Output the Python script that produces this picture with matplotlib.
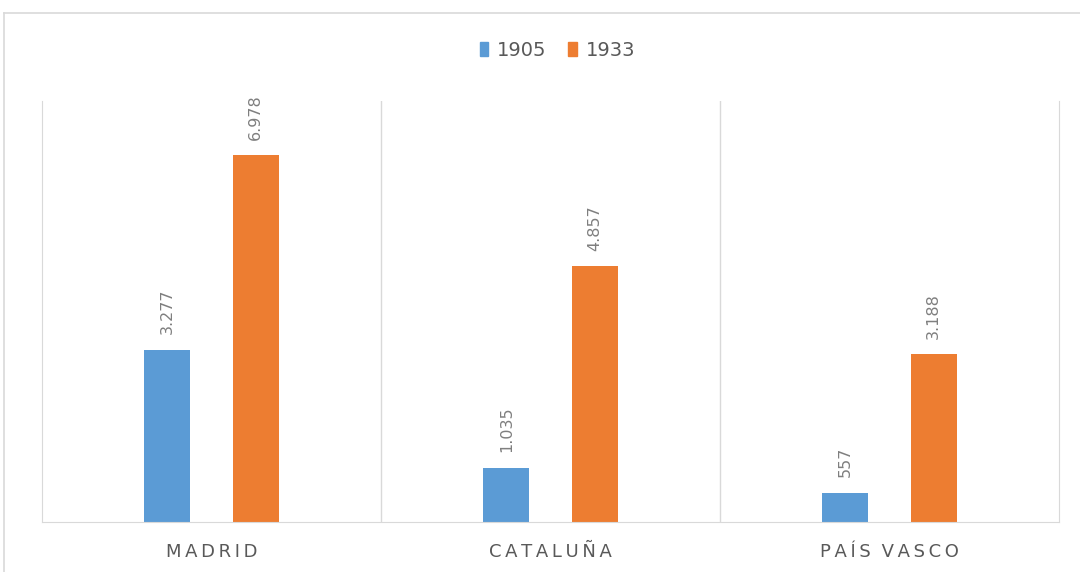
import matplotlib as mpl
mpl.use('Agg')
import matplotlib.pyplot as plt
from matplotlib.lines import Line2D
from matplotlib.patches import Patch
import numpy as np

categories = ['MADRID', 'CATALUÑA', 'PAÍS VASCO']
series_names = ['1905', '1933']
values_1905 = [3277, 1035, 557]
values_1933 = [6978, 4857, 3188]

BLUE = '#5B9BD5'
ORANGE = '#ED7D31'
GRID = '#D9D9D9'
TEXT = '#595959'
LABEL = '#7F7F7F'


def fmt(v):
    # Spanish thousands separator
    return f'{v:,}'.replace(',', '.')


def spaced(s):
    return '\u2009'.join(s).replace('\u2009 \u2009', '\u2009\u2009\u2009')


def main():
    fig = plt.figure(figsize=(10.8, 5.72), dpi=100)
    plt.rcParams['font.family'] = ['DejaVu Sans']

    # outer chart border (top and left edges visible)
    fig.add_artist(Line2D([4 / 1080, 1.01], [1 - 13 / 572] * 2, color=GRID, lw=1.2,
                          transform=fig.transFigure))
    fig.add_artist(Line2D([4 / 1080] * 2, [-0.01, 1 - 13 / 572], color=GRID, lw=1.2,
                          transform=fig.transFigure))

    ax = fig.add_axes([42 / 1080, 50 / 572, (1059 - 42) / 1080, (522 - 101) / 572])
    x = np.arange(len(categories))
    off = 0.13
    w = 0.136
    b1 = ax.bar(x - off, values_1905, w, color=BLUE)
    b2 = ax.bar(x + off, values_1933, w, color=ORANGE)

    for bars, vals in [(b1, values_1905), (b2, values_1933)]:
        for r, v in zip(bars, vals):
            ax.annotate(fmt(v), (r.get_x() + r.get_width() / 2, r.get_height()),
                        xytext=(0, 11), textcoords='offset points',
                        rotation=90, ha='center', va='bottom',
                        fontsize=11.5, color=LABEL)

    ax.set_xlim(-0.5, len(categories) - 0.5)
    ax.set_ylim(0, 8000)
    for xb in np.arange(0.5, len(categories) - 0.5):
        ax.axvline(xb, color=GRID, lw=1)
    for side in ['left', 'right', 'bottom']:
        ax.spines[side].set_color(GRID)
    ax.spines['top'].set_visible(False)
    ax.set_yticks([])
    ax.set_xticks(x)
    ax.set_xticklabels([spaced(c) for c in categories], fontsize=13, color=TEXT)
    ax.tick_params(axis='x', length=0, pad=15)

    handles = [Patch(color=BLUE), Patch(color=ORANGE)]
    fig.legend(handles, series_names, loc='center', bbox_to_anchor=(0.516, 1 - 50 / 572),
               ncol=2, frameon=False, fontsize=14, handlelength=0.45, handleheight=0.75,
               handletextpad=0.45, columnspacing=1.1, labelcolor=TEXT)

    fig.savefig('out.png', dpi=100)


if __name__ == '__main__':
    main()
